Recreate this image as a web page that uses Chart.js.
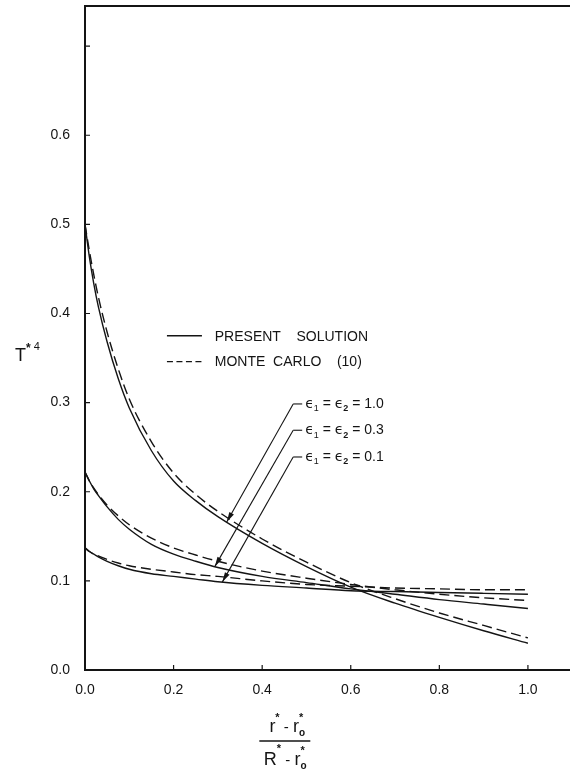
<!DOCTYPE html>
<html>
<head>
<meta charset="utf-8">
<script src="https://cdn.jsdelivr.net/npm/chart.js@4.4.0/dist/chart.umd.min.js"></script>
<style>
  html, body { margin: 0; padding: 0; background: #fff; }
</style>
</head>
<body>
<canvas id="chart" width="570" height="769"></canvas>
<script>
// dimensionless radius (r* - r0*)/(R* - r0*)
const xPositions = [0, 0.01, 0.02, 0.03, 0.05, 0.075, 0.1, 0.15, 0.2, 0.25, 0.3, 0.4, 0.5, 0.6, 0.7, 0.8, 0.9, 1.0];

// T*^4 for eps1 = eps2 = 1.0, 0.3, 0.1
const present10    = [0.500, 0.463, 0.433, 0.408, 0.368, 0.327, 0.294, 0.246, 0.212, 0.190, 0.172, 0.142, 0.116, 0.093, 0.075, 0.059, 0.044, 0.030];
const monteCarlo10 = [0.500, 0.470, 0.443, 0.419, 0.379, 0.338, 0.304, 0.256, 0.221, 0.197, 0.178, 0.147, 0.121, 0.098, 0.080, 0.064, 0.050, 0.036];
const present03    = [0.222, 0.212, 0.203, 0.196, 0.183, 0.169, 0.158, 0.141, 0.130, 0.122, 0.115, 0.105, 0.098, 0.091, 0.085, 0.079, 0.074, 0.069];
const monteCarlo03 = [0.222, 0.212, 0.204, 0.197, 0.185, 0.173, 0.163, 0.148, 0.137, 0.129, 0.122, 0.111, 0.103, 0.096, 0.090, 0.085, 0.081, 0.078];
const present01    = [0.137, 0.133, 0.130, 0.127, 0.122, 0.117, 0.113, 0.108, 0.105, 0.102, 0.099, 0.095, 0.092, 0.089, 0.088, 0.087, 0.086, 0.085];
const monteCarlo01 = [0.137, 0.133, 0.130, 0.128, 0.124, 0.120, 0.117, 0.113, 0.110, 0.107, 0.105, 0.100, 0.096, 0.094, 0.092, 0.091, 0.090, 0.090];

const xTicks = [0, 0.2, 0.4, 0.6, 0.8, 1.0];
const xTickLabels = ['0.0', '0.2', '0.4', '0.6', '0.8', '1.0'];
const yTicks = [0, 0.1, 0.2, 0.3, 0.4, 0.5, 0.6, 0.7];
const yTickLabels = ['0.0', '0.1', '0.2', '0.3', '0.4', '0.5', '0.6', ''];

const legendLabels = ['PRESENT    SOLUTION', 'MONTE  CARLO    (10)'];
const emissivities = ['1.0', '0.3', '0.1'];

const ink = '#141414';
const face = '"Liberation Sans", Arial, Helvetica, sans-serif';
const greek = '"DejaVu Sans", "Liberation Sans", sans-serif';

function toPoints(ys) {
  return ys.map((y, i) => ({ x: xPositions[i], y: y }));
}

function valueAt(ys, x) {
  for (let i = 1; i < xPositions.length; i++) {
    if (x <= xPositions[i]) {
      const t = (x - xPositions[i - 1]) / (xPositions[i] - xPositions[i - 1]);
      return ys[i - 1] + t * (ys[i] - ys[i - 1]);
    }
  }
  return ys[ys.length - 1];
}

function curve(label, ys, dashed) {
  return {
    label: label,
    data: toPoints(ys),
    borderColor: ink,
    borderWidth: 1.4,
    borderDash: dashed ? [10, 5] : [],
    pointRadius: 0,
    fill: false,
    cubicInterpolationMode: 'monotone'
  };
}

// draws a run of text pieces (sub/superscripts), returns the end x
function drawRuns(ctx, x, y, runs, measureOnly) {
  runs.forEach(r => {
    ctx.font = r.font;
    if (!measureOnly) ctx.fillText(r.text, x, y + (r.dy || 0));
    if (!r.stay) x += ctx.measureText(r.text).width;
  });
  return x;
}

function drawArrow(ctx, x0, y0, x1, y1) {
  ctx.beginPath();
  ctx.moveTo(x0, y0);
  ctx.lineTo(x1, y1);
  ctx.stroke();
  const a = Math.atan2(y1 - y0, x1 - x0);
  const len = 10, half = 2.6;
  const c = Math.cos(a), s = Math.sin(a);
  ctx.beginPath();
  ctx.moveTo(x1, y1);
  ctx.lineTo(x1 - len * c + half * s, y1 - len * s - half * c);
  ctx.lineTo(x1 - len * c - half * s, y1 - len * s + half * c);
  ctx.closePath();
  ctx.fill();
}

const paperMarks = {
  id: 'paperMarks',
  afterDraw(chart) {
    const ctx = chart.ctx;
    const xs = chart.scales.x, ys = chart.scales.y;
    const area = chart.chartArea;
    const px = v => xs.getPixelForValue(v);
    const py = v => ys.getPixelForValue(v);

    ctx.save();
    ctx.strokeStyle = ink;
    ctx.fillStyle = ink;

    // top frame
    ctx.lineWidth = 2;
    ctx.beginPath();
    ctx.moveTo(area.left, area.top);
    ctx.lineTo(area.right, area.top);
    ctx.stroke();

    // inward tick marks
    ctx.lineWidth = 1.2;
    ctx.beginPath();
    xTicks.forEach(v => {
      if (v === 0) return;
      ctx.moveTo(px(v), area.bottom);
      ctx.lineTo(px(v), area.bottom - 5);
    });
    yTicks.forEach(v => {
      if (v === 0) return;
      ctx.moveTo(area.left, py(v));
      ctx.lineTo(area.left + 5, py(v));
    });
    ctx.stroke();

    // y axis title T*^4
    ctx.textBaseline = 'alphabetic';
    ctx.textAlign = 'left';
    drawRuns(ctx, area.left - 70, py(0.355) + 7, [
      { text: 'T', font: '18px ' + face },
      { text: '*', font: 'bold 12px ' + face, dy: -9 },
      { text: ' 4', font: '11px ' + face, dy: -11 }
    ]);

    // x axis title as a fraction
    const num = [
      { text: 'r', font: '18px ' + face },
      { text: '*', font: 'bold 11px ' + face, dy: -11 },
      { text: ' - ', font: '15px ' + face },
      { text: 'r', font: '18px ' + face },
      { text: 'o', font: 'bold 10px ' + face, dy: 4, stay: true },
      { text: '*', font: 'bold 11px ' + face, dy: -11 }
    ];
    const den = [
      { text: 'R', font: '18px ' + face },
      { text: '*', font: 'bold 11px ' + face, dy: -13 },
      { text: ' - ', font: '15px ' + face },
      { text: 'r', font: '18px ' + face },
      { text: 'o', font: 'bold 10px ' + face, dy: 4, stay: true },
      { text: '*', font: 'bold 11px ' + face, dy: -11 }
    ];
    const cx = px(0.45);
    const nw = drawRuns(ctx, 0, 0, num, true);
    const dw = drawRuns(ctx, 0, 0, den, true);
    drawRuns(ctx, cx - nw / 2 + 2, area.bottom + 62, num);
    drawRuns(ctx, cx - dw / 2, area.bottom + 95, den);
    ctx.lineWidth = 1.3;
    ctx.beginPath();
    ctx.moveTo(cx - 25, area.bottom + 71);
    ctx.lineTo(cx + 26, area.bottom + 71);
    ctx.stroke();

    // legend
    const legendY = [0.375, 0.346];
    ctx.textBaseline = 'middle';
    ctx.font = '14px ' + face;
    legendY.forEach((v, i) => {
      ctx.setLineDash(i === 0 ? [] : [6, 3.5]);
      ctx.lineWidth = 1.3;
      ctx.beginPath();
      ctx.moveTo(px(0.185), py(v));
      ctx.lineTo(px(0.264), py(v));
      ctx.stroke();
      ctx.fillText(legendLabels[i], px(0.293), py(v) + 1);
    });
    ctx.setLineDash([]);

    // leaders from the emissivity labels to the solid curves
    const leaderStartX = 0.47;
    const leaderStartY = [0.2985, 0.269, 0.239];
    const tipX = [0.32, 0.293, 0.31];
    const tipSeries = [present10, present03, present01];
    ctx.lineWidth = 1.1;
    emissivities.forEach((e, i) => {
      const sx = px(leaderStartX), sy = py(leaderStartY[i]);
      const tx = px(tipX[i]), ty = py(valueAt(tipSeries[i], tipX[i]));
      ctx.beginPath();
      ctx.moveTo(sx, sy);
      ctx.lineTo(sx + 9, sy);
      ctx.stroke();
      drawArrow(ctx, sx, sy, tx, ty);
      ctx.textBaseline = 'middle';
      drawRuns(ctx, sx + 12, sy, [
        { text: '\u03F5', font: '14px ' + greek },
        { text: '1', font: '9px ' + face, dy: 5 },
        { text: ' = ', font: '14px ' + face },
        { text: '\u03F5', font: '14px ' + greek },
        { text: '2', font: 'bold 9px ' + face, dy: 5 },
        { text: ' = ' + e, font: '14px ' + face }
      ]);
    });

    ctx.restore();
  }
};

new Chart(document.getElementById('chart'), {
  type: 'line',
  data: {
    datasets: [
      curve('Present solution, 1.0', present10, false),
      curve('Monte Carlo (10), 1.0', monteCarlo10, true),
      curve('Present solution, 0.3', present03, false),
      curve('Monte Carlo (10), 0.3', monteCarlo03, true),
      curve('Present solution, 0.1', present01, false),
      curve('Monte Carlo (10), 0.1', monteCarlo01, true)
    ]
  },
  options: {
    responsive: false,
    animation: false,
    devicePixelRatio: 1,
    layout: { padding: { top: 6, right: 0, bottom: 0, left: 0 } },
    plugins: {
      legend: { display: false },
      tooltip: { enabled: false }
    },
    scales: {
      x: {
        type: 'linear',
        min: 0,
        max: 1.095,
        afterBuildTicks: s => { s.ticks = xTicks.map(v => ({ value: v })); },
        afterFit: s => { s.height = 99; s.paddingLeft = 0; s.paddingRight = 0; },
        ticks: {
          color: ink,
          padding: 12,
          maxRotation: 0,
          font: { family: face, size: 14 },
          callback: (v, i) => xTickLabels[i]
        },
        grid: { drawOnChartArea: false, drawTicks: false },
        border: { display: true, color: ink, width: 2 }
      },
      y: {
        min: 0,
        max: 0.745,
        afterBuildTicks: s => { s.ticks = yTicks.map(v => ({ value: v })); },
        afterFit: s => { s.width = 85; s.paddingTop = 0; s.paddingBottom = 0; },
        ticks: {
          color: ink,
          padding: 15,
          font: { family: face, size: 14 },
          callback: (v, i) => yTickLabels[i]
        },
        grid: { drawOnChartArea: false, drawTicks: false },
        border: { display: true, color: ink, width: 2 }
      }
    }
  },
  plugins: [paperMarks]
});
</script>
</body>
</html>
